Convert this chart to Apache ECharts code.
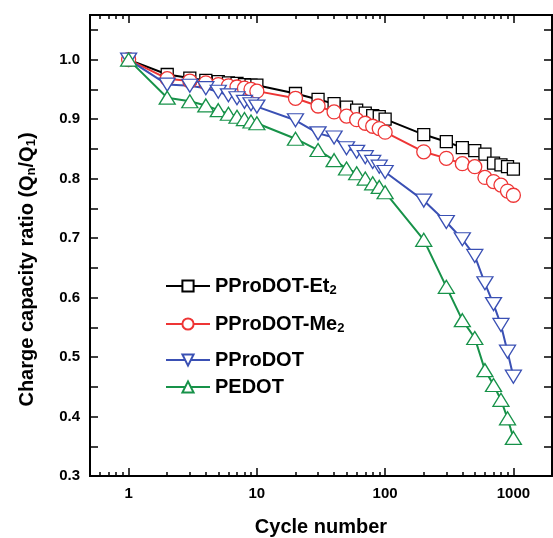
<!DOCTYPE html>
<html>
<head>
<meta charset="utf-8">
<script src="https://cdn.jsdelivr.net/npm/echarts@6/dist/echarts.min.js"></script>
<style>
  html, body { margin: 0; padding: 0; background: #fff; }
  #chart { width: 553px; height: 538px; }
</style>
</head>
<body>
<div id="chart"></div>
<script>
// cycle numbers (x) and capacity ratios Qn/Q1 per polymer
const cycles = [1, 2, 3, 4, 5, 6, 7, 8, 9, 10, 20, 30, 40, 50, 60, 70, 80, 90, 100, 200, 300, 400, 500, 600, 700, 800, 900, 1000]
const et2 = [1.0, 0.975, 0.969, 0.965, 0.963, 0.961, 0.960, 0.958, 0.957, 0.957, 0.943, 0.933, 0.926, 0.920, 0.915, 0.910, 0.906, 0.904, 0.900, 0.874, 0.862, 0.852, 0.847, 0.841, 0.826, 0.823, 0.820, 0.816]
const me2 = [1.0, 0.968, 0.964, 0.961, 0.958, 0.956, 0.954, 0.952, 0.950, 0.947, 0.935, 0.922, 0.912, 0.905, 0.899, 0.893, 0.888, 0.884, 0.878, 0.845, 0.834, 0.825, 0.820, 0.802, 0.795, 0.789, 0.779, 0.772]
const pprodot = [1.0, 0.958, 0.956, 0.952, 0.946, 0.940, 0.935, 0.929, 0.925, 0.921, 0.898, 0.876, 0.869, 0.851, 0.845, 0.836, 0.828, 0.820, 0.811, 0.763, 0.727, 0.698, 0.670, 0.624, 0.589, 0.554, 0.509, 0.467]
const pedot = [1.0, 0.936, 0.930, 0.923, 0.915, 0.909, 0.904, 0.900, 0.896, 0.893, 0.867, 0.848, 0.831, 0.817, 0.809, 0.800, 0.792, 0.786, 0.777, 0.697, 0.618, 0.562, 0.532, 0.478, 0.453, 0.428, 0.397, 0.364]

const xMajor = [1, 10, 100, 1000]
const xMinor = [0.6, 0.7, 0.8, 0.9, 2, 3, 4, 5, 6, 7, 8, 9, 20, 30, 40, 50, 60, 70, 80, 90, 200, 300, 400, 500, 600, 700, 800, 900]
const yTicks = [0.3, 0.35, 0.4, 0.45, 0.5, 0.55, 0.6, 0.65, 0.7, 0.75, 0.8, 0.85, 0.9, 0.95, 1.0, 1.05]
const yLabels = [0.3, 0.4, 0.5, 0.6, 0.7, 0.8, 0.9, 1.0]

const FONT = 'Liberation Sans, Arial, sans-serif'
const sub = { fontSize: 13, fontWeight: 'bold', fontFamily: FONT, padding: [9, 0, 0, 0] }

const chart = echarts.init(document.getElementById('chart'))

const seriesDefs = [
  { name: 'PProDOT-Et2', label: 'PProDOT-Et{sub|2}', data: et2, color: '#000000', symbol: 'rect', size: 12, rotate: 0, legendTop: 271 },
  { name: 'PProDOT-Me2', label: 'PProDOT-Me{sub|2}', data: me2, color: '#ee3535', symbol: 'circle', size: 14, rotate: 0, legendTop: 309 },
  { name: 'PProDOT', label: 'PProDOT', data: pprodot, color: '#3a50b4', symbol: 'triangle', size: [16, 13], rotate: 180, legendTop: 345 },
  { name: 'PEDOT', label: 'PEDOT', data: pedot, color: '#179249', symbol: 'triangle', size: [16, 13], rotate: 0, legendTop: 372 },
]

function xAxisBase(pos) {
  return {
    type: 'log', logBase: 10, min: 0.5, max: 2000, position: pos,
    axisLine: { show: true, lineStyle: { color: '#000', width: 2 } },
    splitLine: { show: false },
  }
}
function yAxisBase(pos) {
  return {
    type: 'value', min: 0.3, max: 1.075, position: pos,
    axisLine: { show: true, lineStyle: { color: '#000', width: 2 } },
    splitLine: { show: false },
  }
}

const labelStyle = { color: '#000', fontSize: 15, fontWeight: 'bold', fontFamily: FONT }

chart.setOption({
  animation: false,
  grid: { left: 90, right: 1, top: 15, bottom: 62, outerBoundsMode: 'none' },
  legend: seriesDefs.map(s => ({
    data: [s.name],
    left: 160, top: s.legendTop,
    itemWidth: 44, itemHeight: 14,
    formatter: () => s.label,
    textStyle: { color: '#000', fontSize: 20, fontWeight: 'bold', fontFamily: FONT, rich: { sub } },
  })),
  xAxis: [
    Object.assign(xAxisBase('bottom'), {
      name: 'Cycle number', nameLocation: 'middle', nameGap: 41,
      nameTextStyle: { color: '#000', fontSize: 20, fontWeight: 'bold', fontFamily: FONT },
      axisTick: { inside: true, length: 8, lineStyle: { color: '#000', width: 1.5 }, customValues: xMajor },
      axisLabel: Object.assign({ margin: 10, customValues: xMajor, formatter: v => String(Math.round(v)) }, labelStyle),
    }),
    Object.assign(xAxisBase('bottom'), {
      axisTick: { inside: true, length: 4, lineStyle: { color: '#000', width: 1.5 }, customValues: xMinor },
      axisLabel: { show: false },
    }),
    Object.assign(xAxisBase('top'), {
      axisTick: { inside: true, length: 8, lineStyle: { color: '#000', width: 1.5 }, customValues: xMajor },
      axisLabel: { show: false },
    }),
    Object.assign(xAxisBase('top'), {
      axisTick: { inside: true, length: 4, lineStyle: { color: '#000', width: 1.5 }, customValues: xMinor },
      axisLabel: { show: false },
    }),
  ],
  yAxis: [
    Object.assign(yAxisBase('left'), {
      name: 'Charge capacity ratio (Q{sub|n}/Q{sub|1})', nameLocation: 'middle', nameGap: 52,
      nameTextStyle: { color: '#000', fontSize: 20, fontWeight: 'bold', fontFamily: FONT, rich: { sub }, padding: [0, 48, 0, 0] },
      axisTick: { inside: true, length: 8, lineStyle: { color: '#000', width: 1.5 }, customValues: yTicks },
      axisLabel: Object.assign({ margin: 10, customValues: yLabels, formatter: v => v.toFixed(1) }, labelStyle),
    }),
    Object.assign(yAxisBase('right'), {
      axisTick: { inside: true, length: 8, lineStyle: { color: '#000', width: 1.5 }, customValues: yTicks },
      axisLabel: { show: false },
    }),
  ],
  series: seriesDefs.map(s => ({
    name: s.name,
    type: 'line',
    xAxisIndex: 0, yAxisIndex: 0,
    data: cycles.map((c, i) => [c, s.data[i]]),
    symbol: s.symbol,
    symbolSize: s.size,
    symbolRotate: s.rotate,
    showAllSymbol: true,
    lineStyle: { color: s.color, width: 2 },
    itemStyle: { color: '#fff', borderColor: s.color, borderWidth: 1.3 },
    emphasis: { disabled: true },
  })),
})
</script>
</body>
</html>
